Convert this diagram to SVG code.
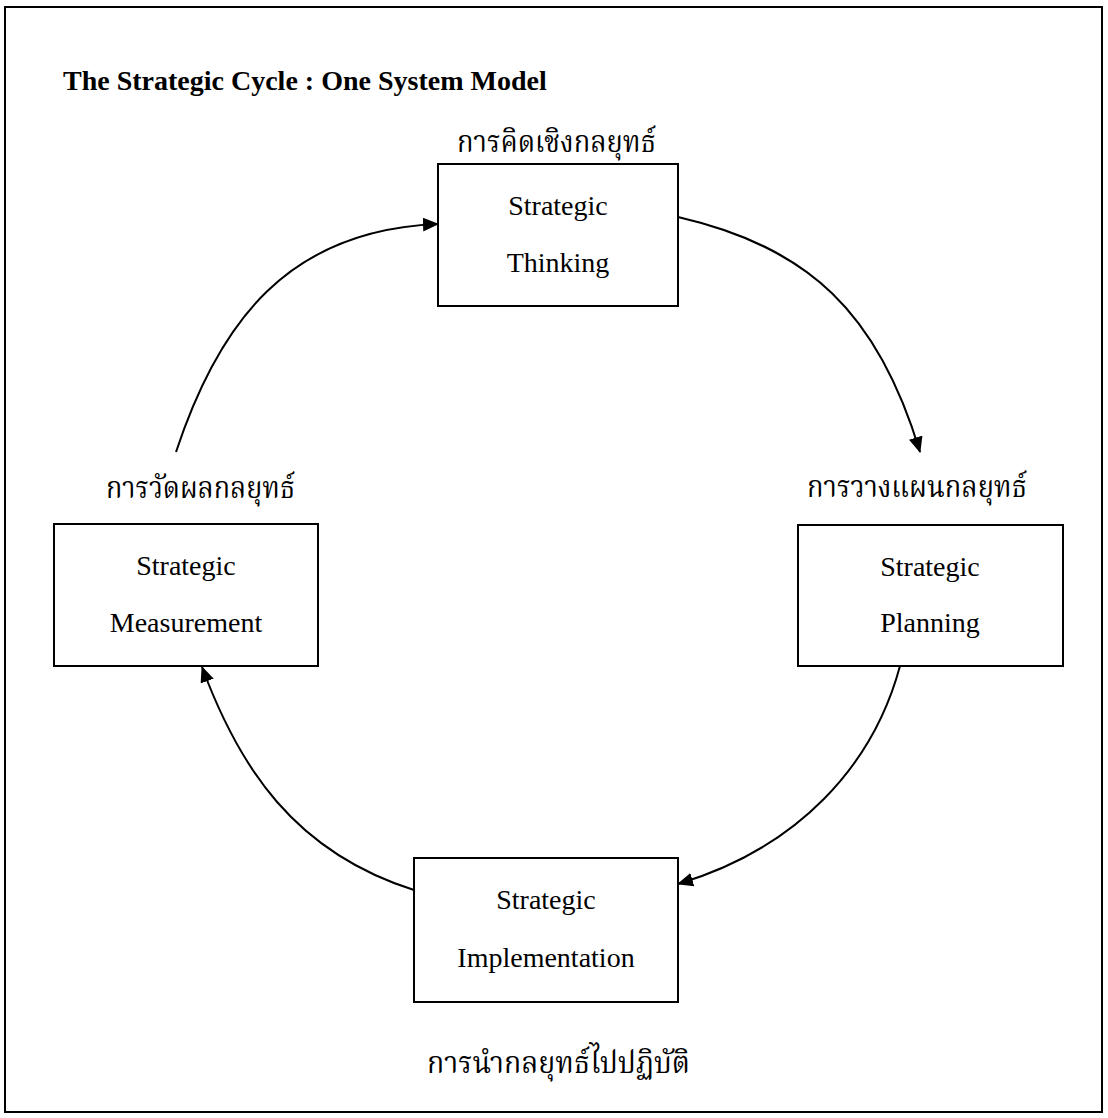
<svg xmlns="http://www.w3.org/2000/svg" width="1108" height="1118" viewBox="0 0 1108 1118">
<style>
.frame{fill:none;stroke:#000;stroke-width:2}
.box{fill:#fff;stroke:#000;stroke-width:2}
.en{font-family:"Liberation Serif","Times New Roman",serif;font-size:28px;fill:#000;text-anchor:middle}
.title{font-family:"Liberation Serif","Times New Roman",serif;font-size:28px;font-weight:bold;fill:#000}
.th{font-family:"Noto Serif Thai","Noto Sans Thai","Liberation Serif","DejaVu Serif",serif;font-size:30px;fill:#000}
.conn{fill:none;stroke:#000;stroke-width:2;marker-end:url(#arr)}
</style>
<defs>
<marker id="arr" viewBox="0 0 16 14" refX="15" refY="7" markerWidth="16" markerHeight="14" markerUnits="userSpaceOnUse" orient="auto">
<path d="M0,0 L16,7 L0,14 Z" fill="#000"/>
</marker>
</defs>
<rect class="frame" x="5" y="7" width="1097" height="1105"/>
<text class="title" x="63" y="90">The Strategic Cycle : One System Model</text>

<g id="connectors">
<path class="conn" d="M678,217 C808,247 878,312 920,452"/>
<path class="conn" d="M900,666 C873,766 798,848 678,884"/>
<path class="conn" d="M414,890 C294,852 239,767 202,667"/>
<path class="conn" d="M176,452 C219,322 288,230 438,224"/>
</g>

<g id="node-thinking">
<text class="th" x="457" y="152" textLength="199" lengthAdjust="spacingAndGlyphs">การคิดเชิงกลยุทธ์</text>
<rect class="box" x="438" y="164" width="240" height="142"/>
<text class="en" x="558" y="215">Strategic</text>
<text class="en" x="558" y="272">Thinking</text>
</g>

<g id="node-planning">
<text class="th" x="807" y="497" textLength="220" lengthAdjust="spacingAndGlyphs">การวางแผนกลยุทธ์</text>
<rect class="box" x="798" y="525" width="265" height="141"/>
<text class="en" x="930" y="576">Strategic</text>
<text class="en" x="930" y="632">Planning</text>
</g>

<g id="node-implementation">
<rect class="box" x="414" y="858" width="264" height="144"/>
<text class="en" x="546" y="909">Strategic</text>
<text class="en" x="546" y="967">Implementation</text>
<text class="th" x="427" y="1073" textLength="263" lengthAdjust="spacingAndGlyphs">การนำกลยุทธ์ไปปฏิบัติ</text>
</g>

<g id="node-measurement">
<text class="th" x="106" y="498" textLength="189" lengthAdjust="spacingAndGlyphs">การวัดผลกลยุทธ์</text>
<rect class="box" x="54" y="524" width="264" height="142"/>
<text class="en" x="186" y="575">Strategic</text>
<text class="en" x="186" y="632">Measurement</text>
</g>
</svg>
